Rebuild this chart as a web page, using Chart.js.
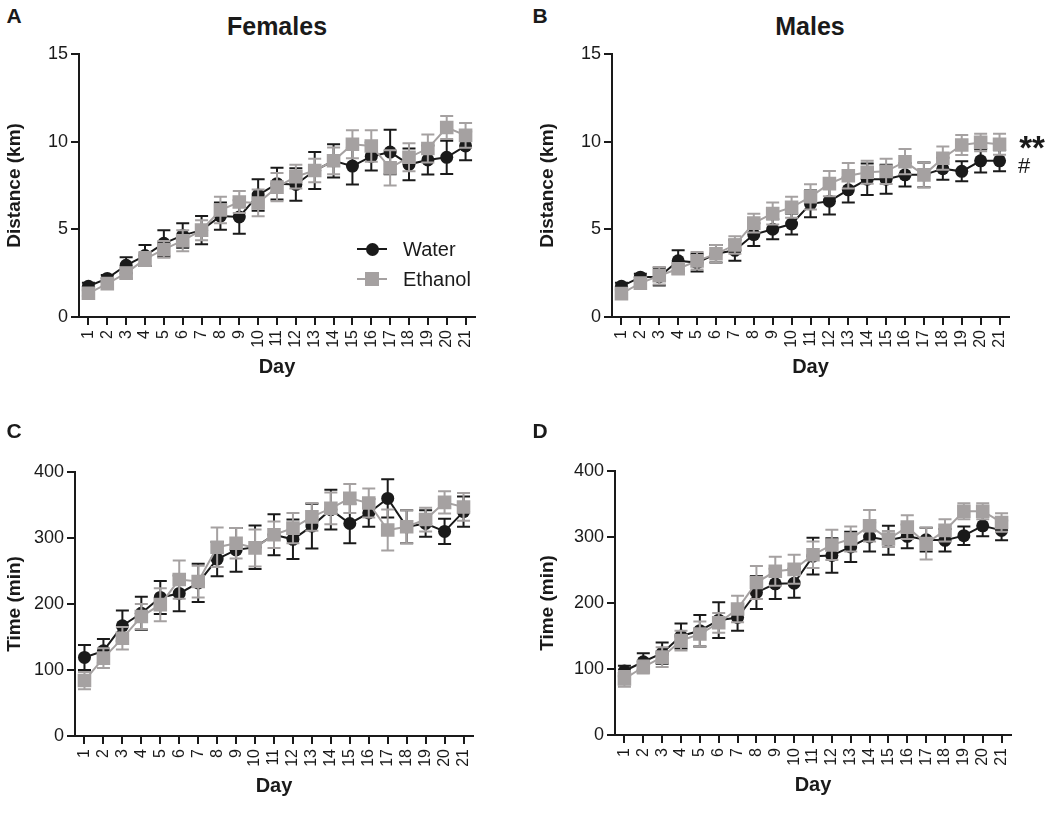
<!DOCTYPE html>
<html><head><meta charset="utf-8">
<script src="https://cdn.jsdelivr.net/npm/chart.js@4.4.0/dist/chart.umd.min.js"></script>
<style>
body{margin:0;background:#fff;width:1050px;height:824px;position:relative;overflow:hidden;font-family:'Liberation Sans',Arial,sans-serif;color:#1a1a1a}
canvas{position:absolute}
.t{position:absolute;white-space:nowrap;line-height:1;transform:translate(-50%,-50%)}
.b{font-weight:bold}
.lg{position:absolute;white-space:nowrap;line-height:1;transform:translateY(-50%);font-size:20px}
.ln{position:absolute;height:2px;width:30px;left:357px}
.mk{position:absolute}
</style></head><body>
<canvas id="cA" width="525" height="360" style="left:0;top:40px"></canvas>
<canvas id="cB" width="525" height="360" style="left:525px;top:40px"></canvas>
<canvas id="cC" width="525" height="384" style="left:0;top:440px"></canvas>
<canvas id="cD" width="525" height="384" style="left:525px;top:440px"></canvas>

<div class="t b" style="left:14px;top:15px;font-size:21px">A</div>
<div class="t b" style="left:540px;top:15px;font-size:21px">B</div>
<div class="t b" style="left:14px;top:430px;font-size:21px">C</div>
<div class="t b" style="left:540px;top:430px;font-size:21px">D</div>
<div class="t b" style="left:277px;top:26px;font-size:25px">Females</div>
<div class="t b" style="left:810px;top:26px;font-size:25px">Males</div>

<div class="ln" style="top:248px;background:#1a1a1a"></div>
<div class="mk" style="left:366px;top:243px;width:13px;height:13px;border-radius:50%;background:#1a1a1a"></div>
<div class="lg" style="left:403px;top:249px">Water</div>
<div class="ln" style="top:278px;background:#a5a1a1"></div>
<div class="mk" style="left:365px;top:272px;width:14px;height:14px;background:#a5a1a1"></div>
<div class="lg" style="left:403px;top:279px">Ethanol</div>

<div class="t b" style="left:1032px;top:147px;font-size:33px">**</div>
<div class="t" style="left:1024px;top:166px;font-size:22px">#</div>

<script>
const days = ['1','2','3','4','5','6','7','8','9','10','11','12','13','14','15','16','17','18','19','20','21'];

const femDistWater    = [1.75,2.2,2.95,3.5,4.2,4.65,4.95,5.75,5.7,6.95,7.6,7.55,8.35,8.9,8.6,9.15,9.4,8.7,8.95,9.1,9.75];
const femDistWaterErr = [0.2,0.2,0.45,0.6,0.75,0.7,0.8,0.78,0.95,0.9,0.9,0.93,1.05,0.95,1.05,0.8,1.27,0.9,0.83,0.95,0.82];
const femDistEth      = [1.35,1.9,2.5,3.3,3.85,4.35,4.95,6.1,6.55,6.5,7.4,8.0,8.35,8.9,9.85,9.75,8.5,9.1,9.6,10.8,10.35];
const femDistEthErr   = [0.15,0.15,0.3,0.4,0.48,0.6,0.57,0.76,0.63,0.76,0.8,0.68,0.67,0.76,0.8,0.9,1.0,0.8,0.8,0.65,0.7];

const maleDistWater    = [1.75,2.27,2.3,3.2,3.1,3.6,3.8,4.7,5.0,5.3,6.45,6.6,7.25,7.85,7.85,8.1,8.1,8.45,8.3,8.9,8.9];
const maleDistWaterErr = [0.2,0.2,0.5,0.6,0.5,0.5,0.6,0.65,0.57,0.6,0.76,0.76,0.72,0.9,0.82,0.66,0.7,0.63,0.57,0.66,0.6];
const maleDistEth      = [1.33,1.93,2.35,2.75,3.2,3.6,4.1,5.35,5.9,6.25,6.85,7.6,8.05,8.25,8.3,8.85,8.1,9.05,9.8,9.95,9.85];
const maleDistEthErr   = [0.15,0.2,0.5,0.3,0.5,0.5,0.5,0.53,0.63,0.6,0.72,0.72,0.72,0.66,0.72,0.72,0.7,0.66,0.57,0.5,0.6];

const femTimeWater    = [119,129,167,186,210,216,232,268,282,286,305,298,318,343,322,338,360,317,322,310,340];
const femTimeWaterErr = [19,18,23,25,25,27,29,26,33,33,31,30,34,30,30,21,29,25,20,19,23];
const femTimeEth      = [84,118,148,181,199,237,234,286,292,285,305,315,332,345,360,353,312,317,328,354,347];
const femTimeEthErr   = [13,15,17,19,25,29,24,30,23,28,20,23,21,24,22,22,31,25,18,17,21];

const maleTimeWater    = [97,111,124,150,158,174,178,216,229,230,271,272,285,300,295,301,296,295,302,317,310];
const maleTimeWaterErr = [8,13,16,19,24,27,20,25,23,22,28,26,23,22,22,18,18,17,14,16,15];
const maleTimeEth      = [85,103,118,143,153,170,191,231,248,251,273,288,297,317,297,315,290,310,339,339,322];
const maleTimeEthErr   = [12,10,15,15,19,15,20,25,22,22,20,23,19,24,12,18,24,17,12,12,14];

const distTicks = [0,5,10,15];
const timeTicks = [0,100,200,300,400];

const BLACK = '#1a1a1a', GRAY = '#a5a1a1';
Chart.defaults.font.family = "'Liberation Sans', Arial, sans-serif";
Chart.defaults.color = BLACK;

const errorBars = {
  id: 'errorBars',
  beforeDatasetDraw(chart, args) {
    const ds = chart.data.datasets[args.index];
    if (!ds.errors) return;
    const y = chart.scales.y, ctx = chart.ctx;
    ctx.save();
    ctx.strokeStyle = ds.borderColor;
    ctx.lineWidth = 2;
    args.meta.data.forEach((pt, i) => {
      const v = ds.data[i], e = ds.errors[i];
      const yt = y.getPixelForValue(v + e), yb = y.getPixelForValue(v - e), x = pt.x;
      ctx.beginPath();
      ctx.moveTo(x, yt); ctx.lineTo(x, yb);
      ctx.moveTo(x - 6.5, yt); ctx.lineTo(x + 6.5, yt);
      ctx.moveTo(x - 6.5, yb); ctx.lineTo(x + 6.5, yb);
      ctx.stroke();
    });
    ctx.restore();
  }
};

function makeChart(id, water, waterErr, eth, ethErr, ticks, yTitle, geo) {
  new Chart(document.getElementById(id), {
    type: 'line',
    data: {
      labels: days,
      datasets: [
        {label: 'Water', data: water, errors: waterErr, order: 1,
         borderColor: BLACK, backgroundColor: BLACK, borderWidth: 2,
         pointStyle: 'circle', pointRadius: 6.5, pointBackgroundColor: BLACK, pointBorderColor: BLACK, pointBorderWidth: 0},
        {label: 'Ethanol', data: eth, errors: ethErr, order: 0,
         borderColor: GRAY, backgroundColor: GRAY, borderWidth: 2,
         pointStyle: 'rect', pointRadius: 9.6, pointBackgroundColor: GRAY, pointBorderColor: GRAY, pointBorderWidth: 0}
      ]
    },
    options: {
      responsive: false, animation: false, devicePixelRatio: 1,
      layout: {padding: geo.pad},
      plugins: {legend: {display: false}, tooltip: {enabled: false}},
      elements: {line: {tension: 0}},
      scales: {
        x: {
          type: 'category', offset: true,
          ticks: {maxRotation: 90, minRotation: 90, autoSkip: false, font: {size: 16}, padding: 5, color: BLACK},
          grid: {drawOnChartArea: false, drawTicks: true, tickLength: 8, color: BLACK, lineWidth: 2},
          border: {display: true, color: BLACK, width: 2},
          title: {display: true, text: 'Day', font: {size: 20, weight: 'bold'}, color: BLACK, padding: {top: 0, bottom: 0}},
          afterFit(s) { s.height = 62; }
        },
        y: {
          min: ticks[0], max: ticks[ticks.length - 1],
          afterBuildTicks(s) { s.ticks = ticks.map(v => ({value: v})); },
          ticks: {font: {size: 18}, padding: 3, color: BLACK},
          grid: {drawOnChartArea: false, drawTicks: true, tickLength: 8, color: BLACK, lineWidth: 2},
          border: {display: true, color: BLACK, width: 2},
          title: {display: true, text: yTitle, font: {size: 19, weight: 'bold'}, color: BLACK, padding: {top: geo.tpad, bottom: 0}},
          afterFit(s) { s.width = geo.yw; }
        }
      }
    },
    plugins: [errorBars]
  });
}

makeChart('cA', femDistWater, femDistWaterErr, femDistEth, femDistEthErr, distTicks, 'Distance (km)',
  {yw: 79, tpad: 3, pad: {top: 13, right: 50, bottom: 21, left: 0}});
makeChart('cB', maleDistWater, maleDistWaterErr, maleDistEth, maleDistEthErr, distTicks, 'Distance (km)',
  {yw: 87, tpad: 11.6, pad: {top: 13, right: 41, bottom: 21, left: 0}});
makeChart('cC', femTimeWater, femTimeWaterErr, femTimeEth, femTimeEthErr, timeTicks, 'Time (min)',
  {yw: 75, tpad: 3, pad: {top: 32, right: 52, bottom: 26, left: 0}});
makeChart('cD', maleTimeWater, maleTimeWaterErr, maleTimeEth, maleTimeEthErr, timeTicks, 'Time (min)',
  {yw: 90, tpad: 11.6, pad: {top: 31, right: 39, bottom: 27, left: 0}});
</script>
</body></html>
